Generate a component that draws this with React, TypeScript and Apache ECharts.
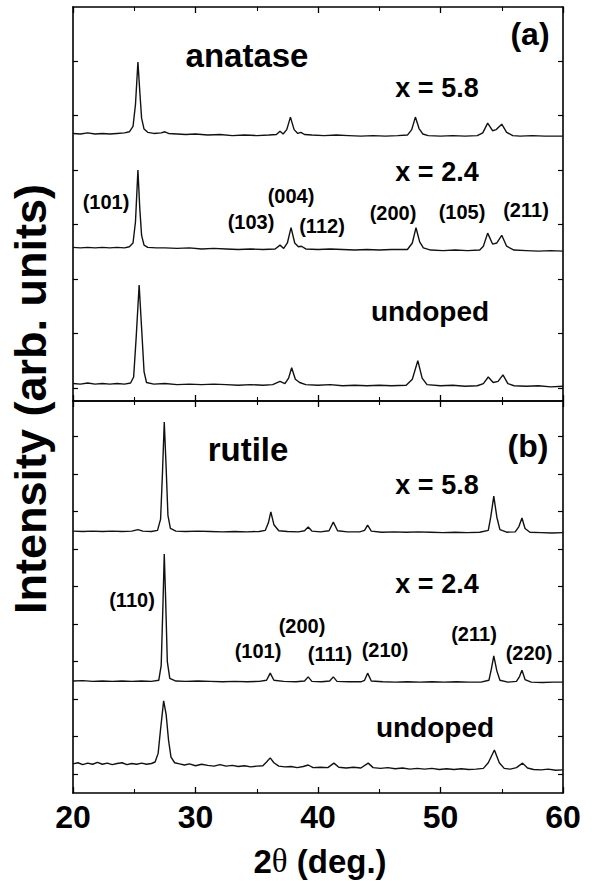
import React, { useEffect, useRef } from "react";
import * as echarts from "echarts";

// 2θ (deg.) vs intensity (arb. units), traces already vertically offset as in the figure
const anataseX58: number[][] = [[20.0,4.67],[20.6,4.66],[21.2,4.68],[21.8,4.66],[22.4,4.67],[23.0,4.66],[23.6,4.67],[24.2,4.68],[24.6,4.70],[24.9,4.80],[25.1,5.20],[25.3,5.98],[25.45,5.45],[25.6,4.95],[25.8,4.75],[26.1,4.69],[26.6,4.67],[27.2,4.68],[27.5,4.70],[27.8,4.67],[28.5,4.66],[29.2,4.65],[30.0,4.66],[31.0,4.64],[32.0,4.65],[33.0,4.63],[34.0,4.64],[35.0,4.63],[36.0,4.64],[36.6,4.65],[36.9,4.71],[37.15,4.66],[37.45,4.74],[37.75,4.97],[38.05,4.74],[38.35,4.67],[38.6,4.69],[38.9,4.65],[39.5,4.64],[40.5,4.63],[41.5,4.64],[42.5,4.63],[43.5,4.62],[44.5,4.63],[45.5,4.62],[46.5,4.63],[47.3,4.64],[47.65,4.74],[47.95,4.97],[48.25,4.76],[48.55,4.66],[49.0,4.63],[50.0,4.62],[51.0,4.63],[52.0,4.62],[53.0,4.63],[53.45,4.68],[53.85,4.86],[54.25,4.72],[54.55,4.74],[55.0,4.84],[55.4,4.69],[55.9,4.63],[56.5,4.62],[57.5,4.63],[58.5,4.62],[59.3,4.62],[60.0,4.62]];
const anataseX24: number[][] = [[20.0,2.58],[20.6,2.57],[21.2,2.58],[21.8,2.57],[22.4,2.58],[23.0,2.57],[23.6,2.58],[24.2,2.57],[24.6,2.59],[24.9,2.66],[25.1,3.05],[25.3,4.00],[25.45,3.30],[25.6,2.80],[25.8,2.62],[26.1,2.58],[26.8,2.57],[27.5,2.57],[28.5,2.56],[29.5,2.57],[30.5,2.55],[31.5,2.56],[32.5,2.55],[33.5,2.54],[34.5,2.55],[35.5,2.54],[36.5,2.55],[36.9,2.62],[37.2,2.56],[37.5,2.66],[37.8,2.94],[38.1,2.66],[38.4,2.59],[38.65,2.60],[39.0,2.55],[40.0,2.54],[41.0,2.55],[42.0,2.54],[43.0,2.53],[44.0,2.54],[45.0,2.53],[46.0,2.54],[47.3,2.54],[47.7,2.66],[48.0,2.94],[48.3,2.68],[48.6,2.57],[49.2,2.53],[50.2,2.52],[51.2,2.53],[52.2,2.52],[53.2,2.53],[53.5,2.60],[53.85,2.84],[54.25,2.64],[54.6,2.66],[55.0,2.80],[55.4,2.60],[56.0,2.53],[57.0,2.52],[58.0,2.51],[59.0,2.52],[60.0,2.51]];
const anataseUndoped: number[][] = [[20.0,0.08],[20.6,0.07],[21.2,0.09],[21.8,0.07],[22.4,0.08],[23.0,0.07],[23.6,0.08],[24.2,0.07],[24.7,0.09],[24.95,0.20],[25.15,0.90],[25.4,1.89],[25.6,1.10],[25.8,0.30],[26.0,0.10],[26.6,0.07],[27.5,0.08],[28.5,0.06],[29.5,0.07],[30.5,0.06],[31.5,0.07],[32.5,0.06],[33.5,0.05],[34.5,0.06],[35.5,0.05],[36.3,0.06],[36.9,0.12],[37.3,0.08],[37.6,0.18],[37.85,0.37],[38.15,0.16],[38.5,0.10],[39.0,0.06],[40.0,0.05],[41.0,0.06],[42.0,0.04],[43.0,0.05],[44.0,0.04],[45.0,0.05],[46.0,0.04],[47.2,0.05],[47.7,0.16],[48.15,0.50],[48.5,0.18],[48.9,0.06],[50.0,0.04],[51.0,0.05],[52.0,0.03],[53.0,0.04],[53.5,0.08],[53.9,0.20],[54.3,0.10],[54.7,0.12],[55.1,0.24],[55.5,0.08],[56.0,0.04],[57.0,0.03],[58.0,0.04],[59.0,0.02],[60.0,0.03]];

const rutileX58: number[][] = [[20.0,6.48],[20.8,6.47],[21.6,6.48],[22.4,6.47],[23.2,6.48],[24.0,6.47],[24.8,6.48],[25.3,6.52],[25.7,6.48],[26.4,6.47],[26.9,6.50],[27.15,6.80],[27.3,8.00],[27.45,9.39],[27.6,8.20],[27.75,6.90],[27.95,6.55],[28.4,6.48],[29.2,6.47],[30.2,6.48],[31.2,6.47],[32.2,6.46],[33.2,6.47],[34.2,6.46],[35.2,6.47],[35.7,6.50],[35.95,6.70],[36.15,6.99],[36.4,6.65],[36.8,6.49],[37.5,6.47],[38.4,6.46],[38.9,6.49],[39.2,6.59],[39.5,6.48],[40.2,6.46],[40.9,6.49],[41.25,6.72],[41.6,6.49],[42.4,6.46],[43.4,6.46],[43.8,6.50],[44.05,6.64],[44.35,6.48],[45.2,6.45],[46.2,6.46],[47.2,6.45],[48.2,6.46],[49.2,6.45],[50.2,6.44],[51.2,6.45],[52.2,6.44],[53.2,6.45],[53.9,6.50],[54.1,6.85],[54.35,7.41],[54.6,6.85],[54.85,6.52],[55.4,6.45],[56.1,6.46],[56.4,6.60],[56.65,6.83],[56.9,6.55],[57.3,6.45],[58.2,6.44],[59.1,6.43],[60.0,6.44]];
const rutileX24: number[][] = [[20.0,2.48],[20.8,2.49],[21.6,2.47],[22.4,2.48],[23.2,2.47],[24.0,2.48],[24.8,2.47],[25.6,2.48],[26.4,2.47],[27.0,2.50],[27.2,2.90],[27.35,4.60],[27.45,5.87],[27.55,4.80],[27.7,3.00],[27.9,2.55],[28.4,2.48],[29.2,2.47],[30.2,2.48],[31.2,2.47],[32.2,2.46],[33.2,2.47],[34.2,2.46],[35.2,2.47],[35.8,2.50],[36.1,2.69],[36.4,2.50],[37.2,2.47],[38.2,2.46],[38.9,2.48],[39.2,2.59],[39.5,2.47],[40.3,2.46],[40.95,2.48],[41.25,2.59],[41.55,2.47],[42.5,2.46],[43.5,2.46],[43.8,2.50],[44.05,2.69],[44.35,2.48],[45.3,2.46],[46.3,2.45],[47.3,2.46],[48.3,2.45],[49.3,2.46],[50.3,2.45],[51.3,2.46],[52.3,2.45],[53.3,2.45],[53.95,2.50],[54.15,2.80],[54.35,3.15],[54.6,2.75],[54.85,2.50],[55.5,2.45],[56.2,2.47],[56.45,2.60],[56.65,2.77],[56.9,2.52],[57.4,2.45],[58.3,2.44],[59.2,2.45],[60.0,2.45]];
const rutileUndoped: number[][] = [[20.0,0.27],[20.4,0.30],[20.8,0.25],[21.2,0.29],[21.6,0.26],[22.0,0.31],[22.4,0.26],[22.8,0.29],[23.2,0.25],[23.6,0.28],[24.0,0.30],[24.4,0.25],[24.8,0.28],[25.2,0.26],[25.6,0.29],[26.0,0.26],[26.4,0.28],[26.7,0.32],[26.95,0.55],[27.15,1.20],[27.4,1.95],[27.6,1.60],[27.8,0.90],[28.0,0.45],[28.3,0.30],[28.7,0.27],[29.1,0.24],[29.5,0.27],[30.0,0.22],[30.5,0.26],[31.0,0.23],[31.5,0.21],[32.0,0.25],[32.5,0.21],[33.0,0.23],[33.5,0.20],[34.0,0.22],[34.5,0.19],[35.0,0.21],[35.5,0.22],[35.8,0.32],[36.1,0.43],[36.4,0.30],[36.8,0.21],[37.3,0.19],[37.8,0.20],[38.3,0.17],[38.8,0.20],[39.2,0.24],[39.6,0.17],[40.2,0.18],[40.8,0.17],[41.3,0.29],[41.7,0.18],[42.3,0.16],[42.9,0.18],[43.5,0.16],[44.1,0.29],[44.5,0.17],[45.1,0.15],[45.7,0.17],[46.3,0.14],[46.9,0.16],[47.5,0.13],[48.1,0.15],[48.7,0.13],[49.3,0.15],[49.9,0.12],[50.5,0.14],[51.1,0.12],[51.7,0.14],[52.3,0.12],[52.9,0.13],[53.5,0.15],[53.9,0.30],[54.4,0.64],[54.8,0.30],[55.2,0.15],[55.7,0.13],[56.2,0.17],[56.7,0.29],[57.1,0.16],[57.6,0.12],[58.2,0.11],[58.8,0.13],[59.4,0.10],[60.0,0.11]];

const xTickValues = [20, 30, 40, 50, 60];
const yTicksA = [0, 1, 2, 3, 4, 5, 6, 7];
const yTicksB = [0, 1, 2, 3, 4, 5, 6, 7, 8, 9];

const anataseLabels = ["(101)", "(103)", "(004)", "(112)", "(200)", "(105)", "(211)"];
const rutileLabels = ["(110)", "(101)", "(200)", "(111)", "(210)", "(211)", "(220)"];

const FONT = "'Liberation Sans', Arial, Helvetica, sans-serif";

export default function App() {
  const ref = useRef<HTMLDivElement>(null);
  useEffect(() => {
    if (!ref.current) return;
    const chart = echarts.init(ref.current, undefined, { renderer: "svg" });
    const axisLine = { show: true, onZero: false, lineStyle: { color: "#000", width: 1.6 } };
    const mkX = (gridIndex: number, position: "top" | "bottom", labels: boolean): any => ({
      type: "value", gridIndex, position, min: 20, max: 60, interval: 10,
      axisLine, splitLine: { show: false },
      axisTick: { show: true, inside: true, length: 6, lineStyle: { color: "#000", width: 1.3 } },
      minorTick: { show: true, splitNumber: 2, length: 4, lineStyle: { color: "#000", width: 1.1 } },
      axisLabel: labels ? { show: true, margin: 8, fontFamily: FONT, fontWeight: "bold", fontSize: 32, color: "#000", customValues: xTickValues } : { show: false },
    });
    const mkY = (gridIndex: number, position: "left" | "right", min: number, max: number, ticks: number[]): any => ({
      type: "value", gridIndex, position, min, max,
      axisLine, splitLine: { show: false },
      axisTick: { show: true, inside: true, length: 5, customValues: ticks, lineStyle: { color: "#000", width: 1.2 } },
      axisLabel: { show: false },
    });
    const line = (data: number[][], xi: number, yi: number): any => ({
      type: "line", data, xAxisIndex: xi, yAxisIndex: yi, showSymbol: false, symbol: "none",
      lineStyle: { color: "#111", width: 1.4 }, silent: true,
    });
    const t = (text: string, x: number, y: number, size: number): any => ({
      type: "text", x, y,
      style: { text, fontFamily: FONT, fontWeight: "bold", fontSize: size, fill: "#000", align: "center", verticalAlign: "middle" },
    });
    const labA = [[106, 202], [251, 222], [291, 196], [322, 226], [393, 213], [462, 212], [526, 210]];
    const labB = [[132, 600], [258, 651], [302, 626], [330, 654], [385, 650], [474, 634], [529, 653]];
    chart.setOption({
      animation: false,
      backgroundColor: "#fff",
      grid: [
        { left: 73, right: 29, top: 7, height: 394 },
        { left: 73, right: 29, top: 401, height: 392 },
      ],
      xAxis: [mkX(0, "bottom", false), mkX(0, "top", false), mkX(1, "bottom", true), mkX(1, "top", false)],
      yAxis: [mkY(0, "left", -0.24, 6.99, yTicksA), mkY(0, "right", -0.24, 6.99, yTicksA), mkY(1, "left", -0.507, 9.95, yTicksB), mkY(1, "right", -0.507, 9.95, yTicksB)],
      series: [
        line(anataseX58, 0, 0), line(anataseX24, 0, 0), line(anataseUndoped, 0, 0),
        line(rutileX58, 2, 2), line(rutileX24, 2, 2), line(rutileUndoped, 2, 2),
      ],
      graphic: [
        t("anatase", 247, 55, 33),
        t("(a)", 530, 34, 32),
        t("x = 5.8", 437, 88, 27),
        t("x = 2.4", 437, 172, 27),
        t("undoped", 430, 311, 28),
        ...anataseLabels.map((s, i) => t(s, labA[i][0], labA[i][1], 20)),
        t("rutile", 248, 449, 33),
        t("(b)", 528, 446, 32),
        t("x = 5.8", 437, 485, 27),
        t("x = 2.4", 437, 584, 27),
        t("undoped", 435, 727, 28),
        ...rutileLabels.map((s, i) => t(s, labB[i][0], labB[i][1], 20)),
        {
          type: "text", x: 30, y: 399, rotation: Math.PI / 2,
          style: { text: "Intensity (arb. units)", fontFamily: FONT, fontWeight: "bold", fontSize: 45, fill: "#000", align: "center", verticalAlign: "middle" },
        },
        {
          type: "text", x: 320, y: 861,
          style: {
            text: "{a|2}{b|θ}{a| (deg.)}", align: "center", verticalAlign: "middle",
            rich: {
              a: { fontFamily: FONT, fontWeight: "bold", fontSize: 33, fill: "#000", lineHeight: 36 },
              b: { fontFamily: "'Liberation Serif', 'DejaVu Serif', serif", fontWeight: "normal", fontSize: 33, fill: "#000", lineHeight: 36 },
            },
          },
        },
      ],
    });
    return () => chart.dispose();
  }, []);
  return <div ref={ref} style={{ width: 592, height: 881, position: "absolute", left: 0, top: 0 }} />;
}
